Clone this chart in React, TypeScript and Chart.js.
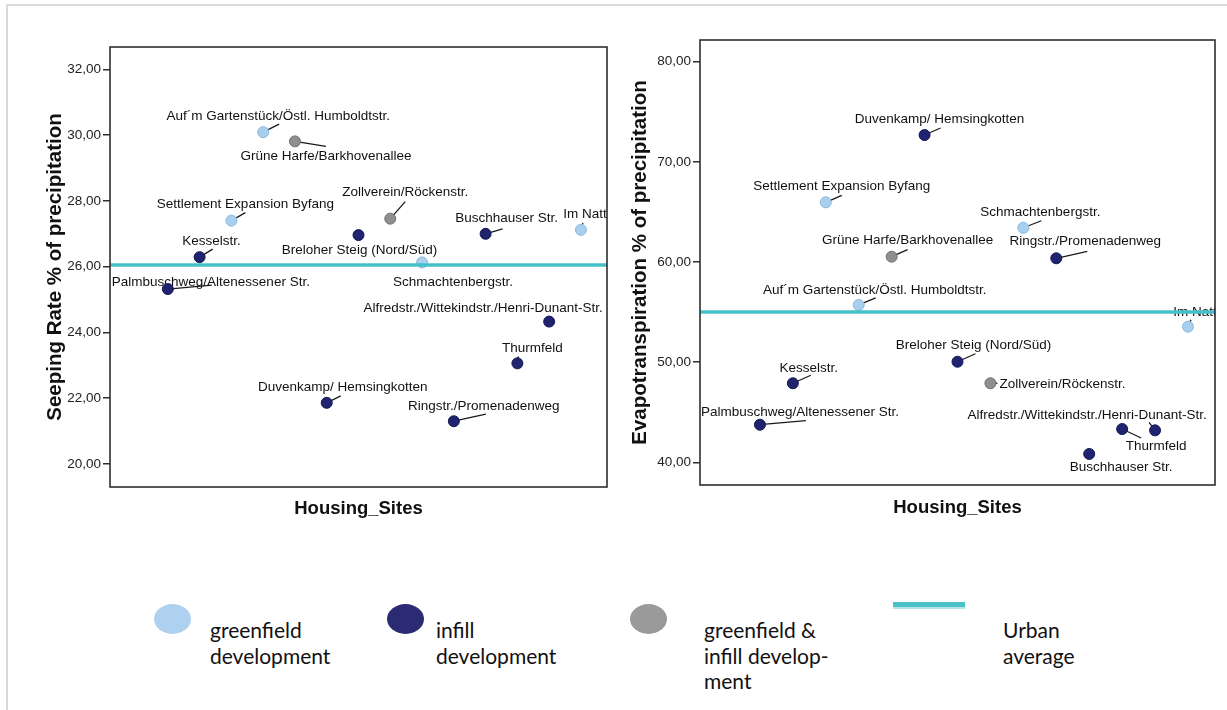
import React, { useEffect, useRef } from "react";
import { Chart, registerables } from "chart.js";

Chart.register(...registerables);

// ---------- data ----------
const SITES = [
  "Palmbuschweg/Altenessener Str.",
  "Kesselstr.",
  "Settlement Expansion Byfang",
  "Auf´m Gartenstück/Östl. Humboldtstr.",
  "Grüne Harfe/Barkhovenallee",
  "Duvenkamp/ Hemsingkotten",
  "Breloher Steig (Nord/Süd)",
  "Zollverein/Röckenstr.",
  "Schmachtenbergstr.",
  "Ringstr./Promenadenweg",
  "Buschhauser Str.",
  "Thurmfeld",
  "Alfredstr./Wittekindstr./Henri-Dunant-Str.",
  "Im Natt",
];
const SITE_INDEX = [1, 2, 3, 4, 5, 6, 7, 8, 9, 10, 11, 12, 13, 14];
const SITE_TYPE = [
  "infill", "infill", "greenfield", "greenfield", "mixed", "infill", "infill",
  "mixed", "greenfield", "infill", "infill", "infill", "infill", "greenfield",
];
const SEEPING_RATE = [25.32, 26.29, 27.4, 30.09, 29.81, 21.86, 26.96, 27.46, 26.13, 21.3, 27.0, 23.06, 24.33, 27.12];
const EVAPOTRANSPIRATION = [43.75, 47.89, 65.96, 55.71, 60.53, 72.68, 50.04, 47.89, 63.42, 60.37, 40.83, 43.32, 43.19, 53.54];
const SEEPING_URBAN_AVG = 26.05;
const EVAPO_URBAN_AVG = 55.0;
const SEEPING_TICKS = [20, 22, 24, 26, 28, 30, 32];
const EVAPO_TICKS = [40, 50, 60, 70, 80];
const X_RANGE = [-0.82, 14.82];
const SEEPING_RANGE = [19.3, 32.68];
const EVAPO_RANGE = [37.73, 82.17];

// ---------- styling ----------
const TYPE_COLOR: Record<string, string> = {
  greenfield: "#a8cfee",
  infill: "#1f2370",
  mixed: "#8f8f8f",
};
const TYPE_BORDER: Record<string, string> = {
  greenfield: "#8ab8de",
  infill: "#14174f",
  mixed: "#6f6f6f",
};
const TEAL = "#45c1c8";
const SANS = '"Liberation Sans", Arial, sans-serif';
const LABEL_FONT = '13.5px "Liberation Sans", Arial, sans-serif';

// label placement: [label dx, label dy, leader end dx, leader end dy] relative to the point (px)
const SEEPING_LABEL_POS = [
  [43, -7, 44, -4],
  [12, -16, 13, -8],
  [14, -16, 14, -8],
  [15, -16, 16, -8],
  [31, 15, 31, 5],
  [16, -16, 14, -7],
  [1, 15, 0, 0],
  [15, -26, 15, -17],
  [31, 20, 0, 0],
  [30, -15, 32, -7],
  [21, -16, 17, -5],
  [15, -15, 1, -7],
  [-66, -13, -1, -5],
  [4, -16, 2, -7],
];
const EVAPO_LABEL_POS = [
  [40, -12, 46, -4],
  [16, -15, 18, -8],
  [16, -16, 16, -7],
  [16, -15, 17, -7],
  [16, -16, 16, -7],
  [15, -16, 16, -7],
  [16, -16, 18, -8],
  [72, 1, 7, 0],
  [17, -15, 18, -7],
  [29, -17, 31, -7],
  [32, 13, 0, 0],
  [34, 17, 19, 9],
  [-68, -15, -6, -8],
  [7, -14, 3, -7],
];

const fmt = (v: number) => v.toFixed(2).replace(".", ",");

function makeConfig(opts: {
  values: number[];
  avg: number;
  ticks: number[];
  yRange: number[];
  yTitle: string;
  labelPos: number[][];
  yWidth: number;
  yTitlePad: number;
  xHeight: number;
  xTitlePad: number;
  padTop: number;
  padRight: number;
}) {
  const points = SITE_INDEX.map((x, i) => ({ x, y: opts.values[i] }));
  const labelsPlugin = {
    id: "siteLabels",
    beforeDatasetsDraw(chart: any) {
      const { ctx, chartArea } = chart;
      const meta = chart.getDatasetMeta(1);
      ctx.save();
      ctx.beginPath();
      ctx.rect(chartArea.left, chartArea.top, chartArea.right - chartArea.left, chartArea.bottom - chartArea.top);
      ctx.clip();
      ctx.font = LABEL_FONT;
      ctx.textAlign = "center";
      ctx.textBaseline = "middle";
      meta.data.forEach((pt: any, i: number) => {
        const [dx, dy, lx, ly] = opts.labelPos[i];
        if (lx || ly) {
          ctx.strokeStyle = "#1a1a1a";
          ctx.lineWidth = 1.3;
          ctx.beginPath();
          ctx.moveTo(pt.x, pt.y);
          ctx.lineTo(pt.x + lx, pt.y + ly);
          ctx.stroke();
        }
        ctx.fillStyle = "#111";
        ctx.fillText(SITES[i], pt.x + dx, pt.y + dy);
      });
      ctx.restore();
    },
    afterDraw(chart: any) {
      const { ctx, chartArea } = chart;
      ctx.save();
      ctx.strokeStyle = "#2e2e2e";
      ctx.lineWidth = 1.6;
      ctx.strokeRect(chartArea.left, chartArea.top, chartArea.right - chartArea.left, chartArea.bottom - chartArea.top);
      ctx.restore();
    },
  };

  return {
    type: "scatter" as const,
    data: {
      datasets: [
        {
          type: "line" as const,
          label: "Urban average",
          data: [
            { x: X_RANGE[0], y: opts.avg },
            { x: X_RANGE[1], y: opts.avg },
          ],
          borderColor: TEAL,
          borderWidth: 3.5,
          pointRadius: 0,
          fill: false,
          order: 0,
        },
        {
          label: "Sites",
          data: points,
          backgroundColor: SITE_TYPE.map((t) => TYPE_COLOR[t]),
          borderColor: SITE_TYPE.map((t) => TYPE_BORDER[t]),
          borderWidth: 1,
          pointRadius: 5.5,
          order: 1,
        },
      ],
    },
    options: {
      animation: false as const,
      responsive: false,
      maintainAspectRatio: false,
      layout: { padding: { top: opts.padTop, right: opts.padRight, left: 0, bottom: 0 } },
      plugins: { legend: { display: false }, tooltip: { enabled: false } },
      scales: {
        x: {
          type: "linear" as const,
          min: X_RANGE[0],
          max: X_RANGE[1],
          ticks: { display: false },
          grid: { display: false },
          border: { display: false },
          title: {
            display: true,
            text: "Housing_Sites",
            color: "#111",
            font: { family: SANS, size: 18.5, weight: "bold" as const },
            padding: { top: 0, bottom: opts.xTitlePad },
          },
          afterFit: (s: any) => {
            s.height = opts.xHeight;
          },
        },
        y: {
          type: "linear" as const,
          min: opts.yRange[0],
          max: opts.yRange[1],
          afterBuildTicks: (s: any) => {
            s.ticks = opts.ticks.map((v) => ({ value: v }));
          },
          ticks: {
            callback: (v: any) => fmt(Number(v)),
            color: "#222",
            padding: 2,
            font: { family: SANS, size: 13.5 },
          },
          grid: {
            display: true,
            drawOnChartArea: false,
            drawTicks: true,
            tickLength: 7,
            color: "#2e2e2e",
            lineWidth: 1.5,
          },
          border: { display: false },
          title: {
            display: true,
            text: opts.yTitle,
            color: "#111",
            font: { family: SANS, size: 20.5, weight: "bold" as const },
            padding: { top: opts.yTitlePad, bottom: 0 },
          },
          afterFit: (s: any) => {
            s.width = opts.yWidth;
          },
        },
      },
    },
    plugins: [labelsPlugin],
  };
}

function ChartCanvas(props: { config: any; left: number; top: number; width: number; height: number }) {
  const ref = useRef<HTMLCanvasElement | null>(null);
  useEffect(() => {
    if (!ref.current) return;
    const chart = new Chart(ref.current, props.config);
    return () => chart.destroy();
  }, []);
  return (
    <canvas
      ref={ref}
      width={props.width}
      height={props.height}
      style={{ position: "absolute", left: props.left, top: props.top, width: props.width, height: props.height }}
    />
  );
}

const LEGEND_FONT = 'Lato, "Open Sans", sans-serif';

function LegendDot(props: { cx: number; color: string }) {
  return (
    <div
      style={{
        position: "absolute",
        left: props.cx - 18.5,
        top: 604,
        width: 37,
        height: 30,
        borderRadius: "50%",
        background: props.color,
      }}
    />
  );
}

function LegendText(props: { left: number; lines: string[] }) {
  return (
    <div
      style={{
        position: "absolute",
        left: props.left,
        top: 617,
        fontFamily: LEGEND_FONT,
        fontSize: 21,
        lineHeight: "25.5px",
        color: "#111",
        whiteSpace: "pre",
      }}
    >
      {props.lines.join("\n")}
    </div>
  );
}

export default function App() {
  const leftConfig = makeConfig({
    values: SEEPING_RATE,
    avg: SEEPING_URBAN_AVG,
    ticks: SEEPING_TICKS,
    yRange: SEEPING_RANGE,
    yTitle: "Seeping Rate % of precipitation",
    labelPos: SEEPING_LABEL_POS,
    yWidth: 110,
    yTitlePad: 43,
    xHeight: 540 - 487,
    xTitlePad: 20,
    padTop: 47,
    padRight: 620 - 607,
  });
  const rightConfig = makeConfig({
    values: EVAPOTRANSPIRATION,
    avg: EVAPO_URBAN_AVG,
    ticks: EVAPO_TICKS,
    yRange: EVAPO_RANGE,
    yTitle: "Evapotranspiration % of precipitation",
    labelPos: EVAPO_LABEL_POS,
    yWidth: 85,
    yTitlePad: 13,
    xHeight: 540 - 485,
    xTitlePad: 21,
    padTop: 40,
    padRight: 12,
  });

  return (
    <div style={{ position: "fixed", left: 0, top: 0, width: 1227, height: 710, background: "#fff", overflow: "hidden" }}>
      <div style={{ position: "absolute", left: 6, top: 4, right: 0, height: 2, background: "#dadada" }} />
      <div style={{ position: "absolute", left: 6, top: 4, width: 2, bottom: 0, background: "#dadada" }} />
      <ChartCanvas config={leftConfig} left={0} top={0} width={620} height={540} />
      <ChartCanvas config={rightConfig} left={615} top={0} width={612} height={540} />
      <LegendDot cx={172} color="#aed1ef" />
      <LegendDot cx={405} color="#2a2b73" />
      <LegendDot cx={648} color="#9a9a9a" />
      <div style={{ position: "absolute", left: 893, top: 602, width: 72, height: 5, background: "#4bc0c6" }} />
      <div style={{ position: "absolute", left: 893, top: 607, width: 72, height: 1.5, background: "#b6e4e7" }} />
      <LegendText left={210} lines={["greenfield", "development"]} />
      <LegendText left={436} lines={["infill", "development"]} />
      <LegendText left={704} lines={["greenfield &", "infill develop-", "ment"]} />
      <LegendText left={1003} lines={["Urban", "average"]} />
    </div>
  );
}
